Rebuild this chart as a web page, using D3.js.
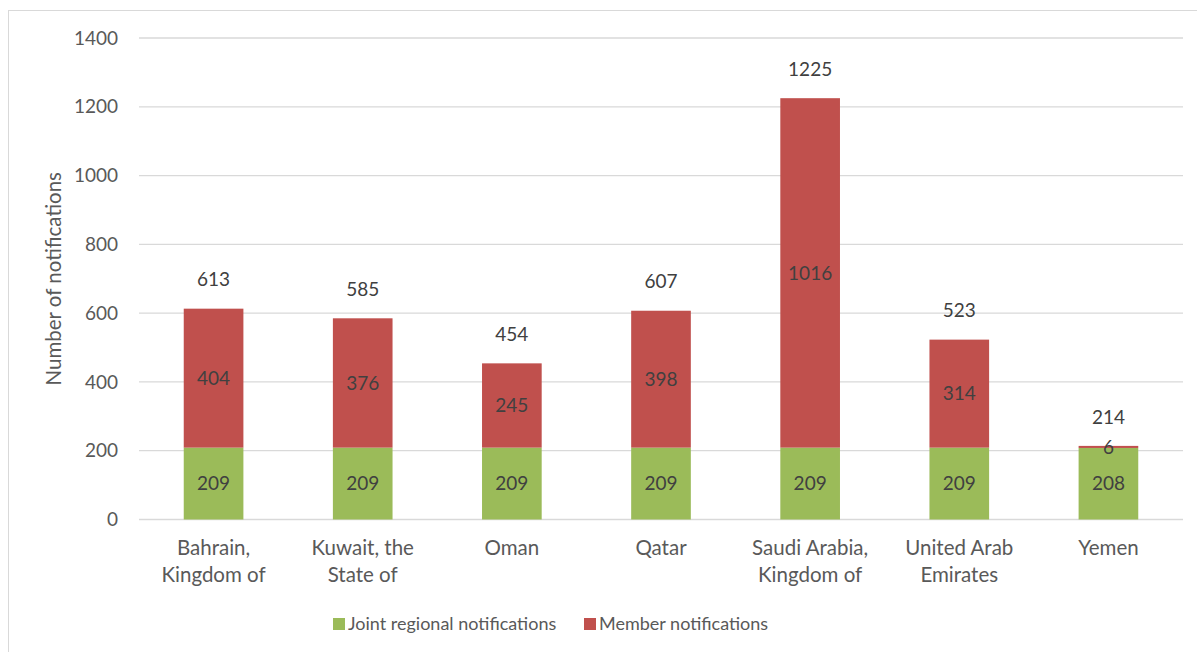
<!DOCTYPE html>
<html><head><meta charset="utf-8">
<script src="https://cdn.jsdelivr.net/npm/d3@7"></script>
<style>
html,body{margin:0;padding:0;background:#fff;}
svg{display:block;font-family:Lato, "Open Sans", sans-serif;}
</style></head>
<body><svg id="chart" width="1197" height="652"></svg>
<script>
const categories = [["Bahrain,","Kingdom of"],["Kuwait, the","State of"],["Oman"],["Qatar"],["Saudi Arabia,","Kingdom of"],["United Arab","Emirates"],["Yemen"]];
const jointValues = [209,209,209,209,209,209,208];
const memberValues = [404,376,245,398,1016,314,6];
const yTicks = [0,200,400,600,800,1000,1200,1400];
const seriesNames = ["Joint regional notifications","Member notifications"];
const colors = ["#9BBB59","#C0504D"];

(function(){
const svg = d3.select("#chart");
const W = 1197, H = 652;
const pLeft = 139, pRight = 1183, pTop = 38, pBottom = 519.5;
const txt = "#595959";
const fs = 19;

svg.append("rect").attr("x",8.5).attr("y",10.5).attr("width",W).attr("height",H).attr("fill","none").attr("stroke","#D9D9D9").attr("stroke-width",1);

const keys = categories.map(d=>d.join(" "));
const x = d3.scaleBand().domain(keys).range([pLeft,pRight]).padding(0);
const y = d3.scaleLinear().domain([0,1400]).range([pBottom,pTop]);

svg.append("g").selectAll("line").data(yTicks).join("line")
  .attr("x1",pLeft).attr("x2",pRight).attr("y1",d=>y(d)).attr("y2",d=>y(d))
  .attr("stroke","#D9D9D9").attr("stroke-width",1.3);

const yAxis = d3.axisLeft(y).tickValues(yTicks).tickFormat(d3.format("d")).tickSize(0).tickPadding(0);
const ga = svg.append("g").attr("transform",`translate(${pLeft-21},0)`).call(yAxis);
ga.select(".domain").remove();
ga.selectAll("text").attr("fill",txt).attr("font-size",fs).attr("font-family","Lato");

svg.append("text").attr("transform",`translate(${61},${(pTop+pBottom)/2}) rotate(-90)`)
  .attr("text-anchor","middle").attr("fill",txt).attr("font-size",20.5).text("Number of notifications");

const rows = keys.map((k,i)=>({key:k, joint:jointValues[i], member:memberValues[i]}));
const stack = d3.stack().keys(["joint","member"])(rows);
const barW = x.bandwidth()*0.4;
const bx = k => x(k) + (x.bandwidth()-barW)/2;

stack.forEach((layer,li)=>{
  svg.append("g").selectAll("rect").data(layer).join("rect")
    .attr("x",d=>bx(d.data.key)).attr("width",barW)
    .attr("y",d=>y(d[1])).attr("height",d=>y(d[0])-y(d[1]))
    .attr("fill",colors[li]);
  svg.append("g").selectAll("text").data(layer).join("text")
    .attr("x",d=>x(d.data.key)+x.bandwidth()/2)
    .attr("y",d=>(y(d[0])+y(d[1]))/2)
    .attr("dy","0.35em").attr("text-anchor","middle")
    .attr("fill","#404040").attr("font-size",fs)
    .text(d=>d[1]-d[0]);
});

svg.append("g").selectAll("text").data(rows).join("text")
  .attr("x",d=>x(d.key)+x.bandwidth()/2)
  .attr("y",d=>y(d.joint+d.member)-29)
  .attr("dy","0.35em").attr("text-anchor","middle")
  .attr("fill","#404040").attr("font-size",fs)
  .text(d=>d.joint+d.member);

const cl = svg.append("g").selectAll("text").data(categories).join("text")
  .attr("x",(d,i)=>x(keys[i])+x.bandwidth()/2)
  .attr("y",548).attr("text-anchor","middle").attr("fill",txt).attr("font-size",20.5);
cl.selectAll("tspan").data(d=>d).join("tspan")
  .attr("x",function(){return this.parentNode.getAttribute("x");})
  .attr("dy",(d,i)=>i===0?"0.35em":"1.3em").text(d=>d);

const lg = svg.append("g");
const legX = [333, 584];
seriesNames.forEach((n,i)=>{
  lg.append("rect").attr("x",legX[i]).attr("y",618).attr("width",12).attr("height",12).attr("fill",colors[i]);
  lg.append("text").attr("x",legX[i]+15).attr("y",624).attr("dy","0.35em").attr("fill",txt).attr("font-size",18).text(n);
});
})();
</script></body></html>
